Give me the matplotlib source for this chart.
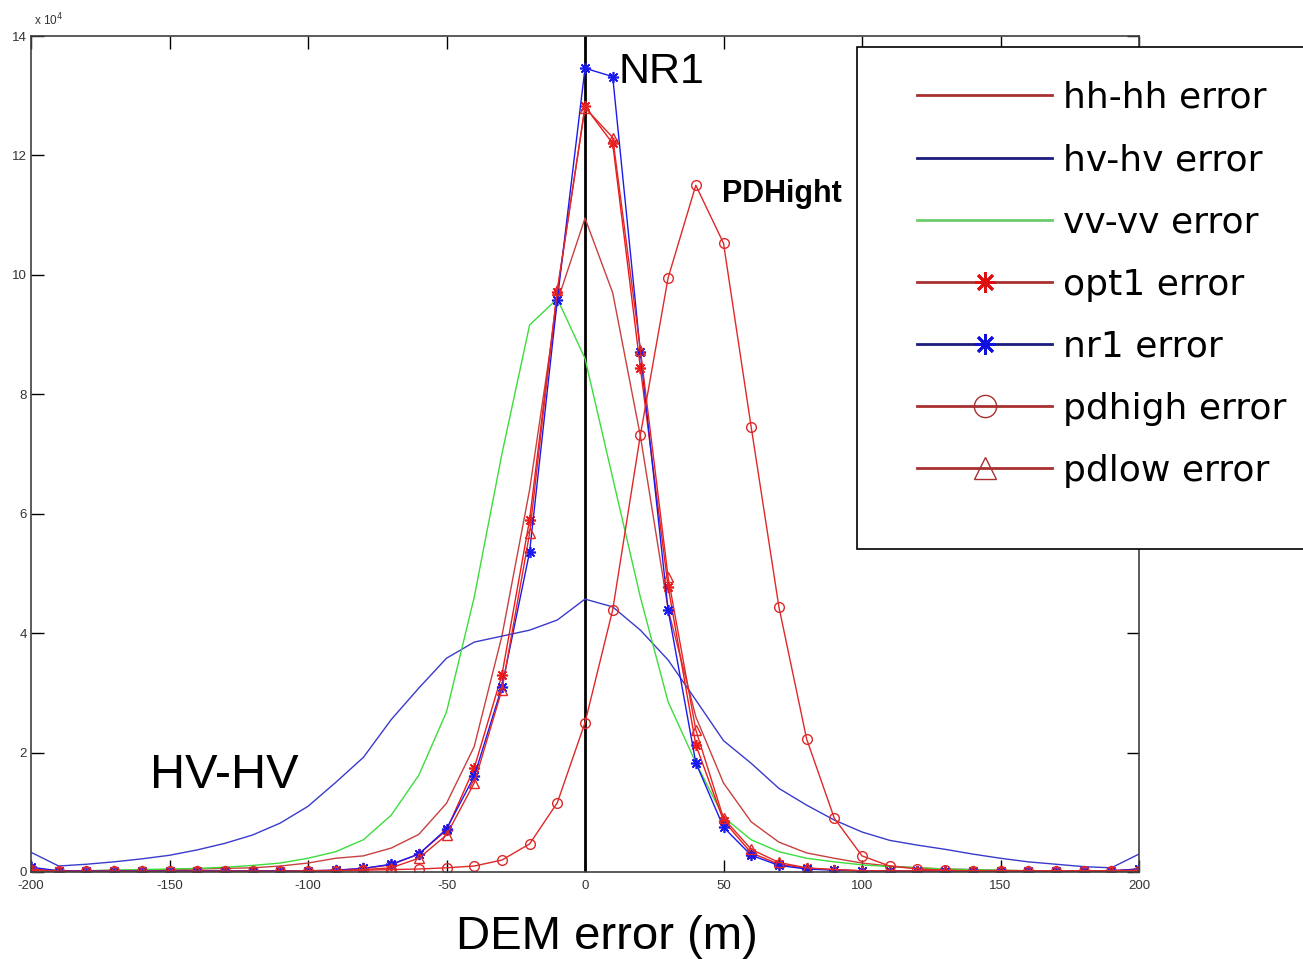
import numpy as np
import matplotlib.pyplot as plt
from matplotlib.lines import Line2D
from matplotlib.patches import Rectangle

plt.rcParams['font.family'] = ['Liberation Sans', 'DejaVu Sans']
plt.rcParams['axes.unicode_minus'] = False

# DEM error bins (m)
x = np.arange(-200, 201, 10)

# counts in units of 1e4
hh = [0.02, 0.02, 0.02, 0.03, 0.03, 0.04, 0.05, 0.06, 0.07, 0.10, 0.15, 0.23, 0.27, 0.40,
      0.63, 1.15, 2.10, 3.95, 6.40, 9.55, 10.95, 9.70, 7.30, 4.40, 2.60, 1.49, 0.84, 0.50,
      0.32, 0.23, 0.15, 0.10, 0.07, 0.05, 0.04, 0.03, 0.02, 0.02, 0.01, 0.01, 0.01]
hv = [0.33, 0.10, 0.13, 0.17, 0.22, 0.28, 0.37, 0.48, 0.62, 0.82, 1.10, 1.50, 1.92, 2.55,
      3.08, 3.58, 3.85, 3.95, 4.05, 4.22, 4.57, 4.44, 4.05, 3.55, 2.88, 2.20, 1.82, 1.40,
      1.12, 0.87, 0.67, 0.53, 0.45, 0.38, 0.30, 0.23, 0.17, 0.13, 0.09, 0.07, 0.30]
vv = [0.00, 0.01, 0.02, 0.03, 0.04, 0.05, 0.06, 0.08, 0.11, 0.15, 0.23, 0.34, 0.54, 0.95,
      1.62, 2.68, 4.60, 7.00, 9.16, 9.60, 8.60, 6.60, 4.60, 2.85, 1.83, 0.92, 0.54, 0.34,
      0.23, 0.17, 0.12, 0.09, 0.07, 0.05, 0.04, 0.03, 0.02, 0.02, 0.01, 0.01, 0.00]
opt1 = [0.05, 0.02, 0.02, 0.02, 0.02, 0.02, 0.02, 0.02, 0.02, 0.02, 0.02, 0.03, 0.06, 0.12,
        0.30, 0.70, 1.74, 3.30, 5.90, 9.72, 12.82, 12.20, 8.44, 4.78, 2.13, 0.86, 0.32, 0.13,
        0.06, 0.04, 0.02, 0.02, 0.02, 0.02, 0.02, 0.02, 0.02, 0.02, 0.02, 0.02, 0.05]
nr1 = [0.08, 0.02, 0.02, 0.02, 0.02, 0.02, 0.02, 0.02, 0.02, 0.02, 0.02, 0.03, 0.06, 0.13,
       0.30, 0.72, 1.60, 3.10, 5.36, 9.58, 13.46, 13.32, 8.70, 4.39, 1.83, 0.75, 0.28, 0.11,
       0.05, 0.03, 0.02, 0.02, 0.02, 0.02, 0.02, 0.02, 0.02, 0.02, 0.02, 0.02, 0.05]
pdhigh = [0.03, 0.01, 0.01, 0.01, 0.01, 0.01, 0.01, 0.01, 0.01, 0.01, 0.02, 0.02, 0.03, 0.04,
          0.05, 0.07, 0.10, 0.20, 0.47, 1.16, 2.50, 4.39, 7.32, 9.95, 11.50, 10.53, 7.45, 4.44,
          2.23, 0.90, 0.27, 0.10, 0.05, 0.03, 0.02, 0.02, 0.02, 0.02, 0.02, 0.02, 0.02]
pdlow = [0.04, 0.01, 0.01, 0.01, 0.01, 0.01, 0.01, 0.01, 0.01, 0.01, 0.01, 0.02, 0.04, 0.07,
         0.23, 0.62, 1.49, 3.05, 5.67, 9.75, 12.80, 12.30, 8.74, 4.94, 2.38, 0.90, 0.38, 0.16,
         0.07, 0.04, 0.02, 0.02, 0.02, 0.02, 0.02, 0.02, 0.02, 0.02, 0.02, 0.02, 0.03]

labels = ['hh-hh error', 'hv-hv error', 'vv-vv error', 'opt1 error', 'nr1 error',
          'pdhigh error', 'pdlow error']

W, H = 1303, 959
fig = plt.figure(figsize=(W / 100, H / 100), dpi=100)
ax = fig.add_axes([31 / W, 1 - 872 / H, (1139 - 31) / W, (872 - 36) / H])

ax.axvline(0, color='black', lw=2, zorder=1.5)

ast = (8, 2, 0)  # matlab-style asterisk
lw = 1.0
ax.plot(x, hh, color='#c84040', lw=lw)
ax.plot(x, hv, color='#3a3acc', lw=lw)
ax.plot(x, vv, color='#3ddc3d', lw=lw)
ax.plot(x, opt1, color='#ee1a1a', lw=lw, marker=ast, ms=8, mew=1.2)
ax.plot(x, nr1, color='#1a1aee', lw=lw, marker=ast, ms=8, mew=1.2)
ax.plot(x, pdhigh, color='#e02828', lw=lw, marker='o', ms=7, mfc='none')
ax.plot(x, pdlow, color='#e02828', lw=lw, marker='^', ms=7, mfc='none')

ax.set_xlim(-200, 200)
ax.set_ylim(0, 14)
ax.set_xticks(np.arange(-200, 201, 50))
ax.set_yticks(np.arange(0, 15, 2))
ax.tick_params(direction='in', length=9, width=1, top=True, right=True,
               labelsize=9.5, labelcolor='#333333')
ax.tick_params(axis='x', pad=6)
ax.tick_params(axis='y', pad=3)
for s in ax.spines.values():
    s.set_linewidth(1.2)
    s.set_color('#404040')

fig.text(34 / W, 1 - 20 / H, r'x 10$^4$', fontsize=8.5, color='#333333', va='center')

ax.text(12, 13.4, 'NR1', fontsize=31, va='center', ha='left')
ax.text(49.5, 11.35, 'PDHight', fontsize=22, fontweight='bold', va='center', ha='left')
ax.text(-157, 1.62, 'HV-HV', fontsize=35, va='center', ha='left')
fig.text(607 / W, 1 - 937 / H, 'DEM error (m)', fontsize=34, ha='center', va='center')

# legend
fig.patches.append(Rectangle((857 / W, 1 - 549 / H), 460 / W, 502 / H, transform=fig.transFigure,
                             fill=True, facecolor='white', edgecolor='black', lw=1.2, zorder=5))
handles = [
    Line2D([], [], color='#a83030', lw=2),
    Line2D([], [], color='#1c1c80', lw=2),
    Line2D([], [], color='#6ccc6c', lw=2),
    Line2D([], [], color='#a83030', lw=2, marker=ast, ms=15, mew=2, mec='#dd1111'),
    Line2D([], [], color='#1c1c80', lw=2, marker=ast, ms=15, mew=2, mec='#1111dd'),
    Line2D([], [], color='#a83030', lw=2, marker='o', ms=16, mfc='none', mec='#a83030'),
    Line2D([], [], color='#a83030', lw=2, marker='^', ms=16, mfc='none', mec='#a83030'),
]
leg = fig.legend(handles, labels, loc='upper left', bbox_to_anchor=(917 / W, 1 - 81 / H),
                 frameon=False, prop={'family': 'DejaVu Sans', 'size': 26},
                 handlelength=3.75, handletextpad=0.3,
                 labelspacing=0.78, borderpad=0, borderaxespad=0)
leg.set_zorder(6)

fig.savefig('out.png', dpi=100)
